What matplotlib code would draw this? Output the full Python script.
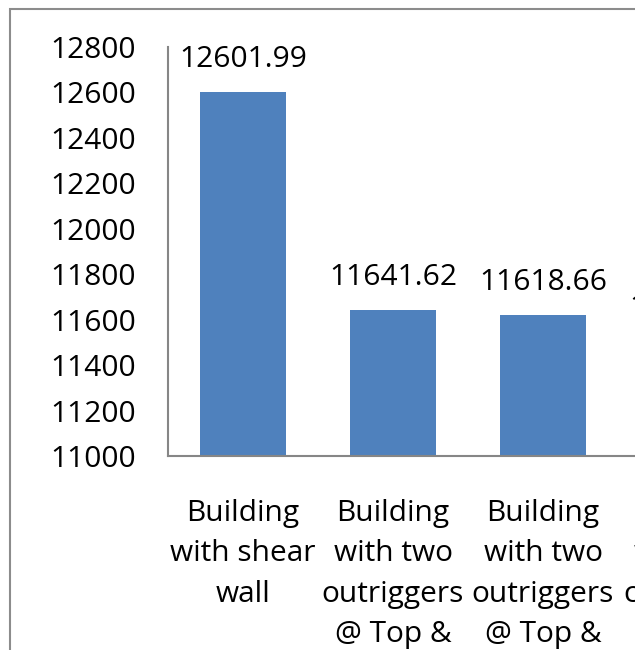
import matplotlib
matplotlib.use("Agg")
import matplotlib.pyplot as plt
from matplotlib.patches import Rectangle

plt.rcParams['font.family'] = ['Open Sans', 'DejaVu Sans']

categories = [
    "Building\nwith shear\nwall",
    "Building\nwith two\noutriggers\n@ Top &\nMiddle",
    "Building\nwith two\noutriggers\n@ Top &\n3/4 height",
    "Building\nwith two\ncombined\n@ Top &\nMiddle",
]
values = [12601.99, 11641.62, 11618.66, 11512.40]
value_labels = ["12601.99", "11641.62", "11618.66", "11512.40"]
yticks = list(range(11000, 12801, 200))

fs = 21.5

fig = plt.figure(figsize=(6.35, 6.5), dpi=100)

# outer chart border (cropped on the right and bottom)
fig.patches.append(Rectangle((10 / 635, -0.1), 1.2, (650 - 9) / 650 + 0.1,
                             transform=fig.transFigure, fill=False,
                             edgecolor='#8c8c8c', linewidth=1.5))

ax = fig.add_axes([168 / 635, (650 - 456) / 650, 600 / 635, (456 - 47) / 650])
x = range(len(values))
ax.bar(x, [v - 11000 for v in values], bottom=11000, width=0.573, color='#4F81BD')

for i, (v, lab) in enumerate(zip(values, value_labels)):
    ax.annotate(lab, (i, v), xytext=(0, 13), textcoords='offset points',
                ha='center', va='bottom', fontsize=fs, clip_on=False)

ax.set_xlim(-0.5, len(values) - 0.5)
ax.set_ylim(11000, 12800)
ax.set_yticks(yticks)
ax.set_yticklabels([str(t) for t in yticks], fontsize=fs)
ax.set_xticks(list(x))
ax.set_xticklabels(categories, fontsize=fs, linespacing=1.52)
ax.tick_params(axis='both', length=0)
ax.tick_params(axis='y', pad=23)
ax.tick_params(axis='x', pad=31)

for s in ['top', 'right']:
    ax.spines[s].set_visible(False)
for s in ['left', 'bottom']:
    ax.spines[s].set_color('#868686')
    ax.spines[s].set_linewidth(1.5)

fig.savefig('out.png', dpi=100)
